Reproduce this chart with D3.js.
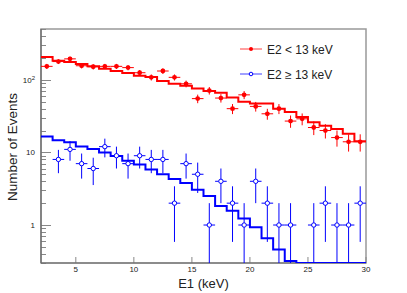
<!DOCTYPE html>
<html>
<head>
<meta charset="utf-8">
<script src="https://d3js.org/d3.v7.min.js"></script>
<style>
  body { margin: 0; background: #fff; }
  text { font-family: "Liberation Sans", Arial, sans-serif; }
</style>
</head>
<body>
<div id="chart"></div>
<script>
// bin low edges (keV), 1 keV wide
const binEdges = d3.range(2, 30);
const binCenters = binEdges.map(d => d + 0.5);

// histogram (expectation) per bin
const redHist = [206, 183, 176, 165, 153, 142, 132, 124, 114, 109, 96, 88, 83, 76,
                 70, 66, 57, 50, 47, 47, 40, 36, 30.7, 26, 23.3, 21, 18, 14.2];
const blueHist = [16.6, 14.7, 13.8, 12.1, 11.1, 10.0, 8.95, 7.7, 6.8, 5.8, 5.0, 4.3, 3.8, 3.06,
                  2.5, 1.83, 1.57, 1.23, 0.93, 0.66, 0.46, 0.32, 0, 0, 0, 0, 0, 0];

// measured counts per bin
const redCounts = [153, 178, 194, 156, 151, 153, 153, 147, 125, 108, 132, 108, 88, 55,
                   71, 56, 40, 62, 43, 34, 40, 27, 29, 22, 20, 16, 14, 14];
const blueCounts = [0, 8, 11, 7, 6, 12, 9, 7, 9, 8, 8, 2, 7, 5,
                    1, 4, 2, 1, 4, 2, 1, 1, 0, 1, 2, 1, 1, 2];

const xTicks = [5, 10, 15, 20, 25, 30];
const yMajor = [1, 10, 100];
const legendLabels = ["E2 < 13 keV", "E2 \u2265 13 keV"];

(function chart() {

    const WIDTH = 407;
    const HEIGHT = 293;
    const X0 = 41, X1 = 366, Y0 = 29, Y1 = 263;
    const YMIN = 0.3, YMAX = 500;

    const svg = d3.select("#chart").append("svg")
        .attr("width", WIDTH)
        .attr("height", HEIGHT);

    const x = d3.scaleLinear().domain([2, 30]).range([X0, X1]);
    const y = d3.scaleLog().domain([YMIN, YMAX]).range([Y1, Y0]);
    const yc = v => y(Math.max(YMIN, Math.min(YMAX, v)));

    svg.append("clipPath").attr("id", "clip")
        .append("rect").attr("x", X0).attr("y", Y0)
        .attr("width", X1 - X0).attr("height", Y1 - Y0);

    // frame
    svg.append("rect")
        .attr("x", X0).attr("y", Y0)
        .attr("width", X1 - X0).attr("height", Y1 - Y0)
        .attr("fill", "none").attr("stroke", "#999").attr("stroke-width", 1.5);

    // y ticks (major + minor), pointing inward
    const minor = [];
    [0.1, 1, 10, 100].forEach(dec => {
        for (let k = 2; k <= 9; k++) {
            const v = dec * k;
            if (v >= YMIN && v <= YMAX) minor.push(v);
        }
    });
    svg.append("g").selectAll("line").data(minor).join("line")
        .attr("x1", X0).attr("x2", X0 + 5)
        .attr("y1", d => Math.round(y(d)) + 0.5).attr("y2", d => Math.round(y(d)) + 0.5)
        .attr("stroke", "#888");
    svg.append("g").selectAll("line").data(yMajor).join("line")
        .attr("x1", X0).attr("x2", X0 + 10)
        .attr("y1", d => Math.round(y(d)) + 0.5).attr("y2", d => Math.round(y(d)) + 0.5)
        .attr("stroke", "#888");

    // x ticks
    svg.append("g").selectAll("line").data(xTicks).join("line")
        .attr("x1", d => x(d)).attr("x2", d => x(d))
        .attr("y1", Y1).attr("y2", Y1 - 6)
        .attr("stroke", "#888");

    // axis lines
    svg.append("line").attr("x1", X0).attr("x2", X0).attr("y1", Y0).attr("y2", Y1)
        .attr("stroke", "#666").attr("stroke-width", 1.2);
    svg.append("line").attr("x1", X0).attr("x2", X1).attr("y1", Y1).attr("y2", Y1)
        .attr("stroke", "#666").attr("stroke-width", 1.2);

    // tick labels
    svg.append("g").selectAll("text").data(xTicks).join("text")
        .attr("x", d => x(d)).attr("y", 272)
        .attr("text-anchor", "middle")
        .style("font-size", "8px").attr("fill", "#222")
        .text(d => d);

    const yl = svg.append("g").selectAll("text").data(yMajor).join("text")
        .attr("x", 35).attr("y", d => y(d) + 3)
        .attr("text-anchor", "end")
        .style("font-size", "8px").attr("fill", "#222");
    yl.each(function(d) {
        const t = d3.select(this);
        if (d === 100) {
            t.append("tspan").text("10");
            t.append("tspan").attr("dy", -3).style("font-size", "6px").text("2");
        } else {
            t.text(d);
        }
    });

    // axis titles
    svg.append("text")
        .attr("x", (X0 + X1) / 2).attr("y", 288)
        .attr("text-anchor", "middle")
        .style("font-size", "13px").attr("fill", "#222")
        .text("E1 (keV)");
    svg.append("text")
        .attr("transform", "translate(17,147) rotate(-90)")
        .attr("text-anchor", "middle")
        .style("font-size", "13.5px").attr("fill", "#222")
        .text("Number of Events");

    const plot = svg.append("g").attr("clip-path", "url(#clip)");

    // histograms as steps
    function drawHist(vals, color) {
        const pts = [];
        vals.forEach((v, i) => {
            pts.push([x(binEdges[i]), yc(v)]);
            pts.push([x(binEdges[i] + 1), yc(v)]);
        });
        plot.append("path")
            .attr("d", d3.line()(pts))
            .attr("fill", "none")
            .attr("stroke", color)
            .attr("stroke-width", 2);
    }
    drawHist(redHist, "#ff0000");
    drawHist(blueHist, "#0000ff");

    // data points with sqrt(N) errors
    function drawPoints(counts, color, open) {
        const data = counts.map((n, i) => ({ c: binCenters[i], n: n })).filter(d => d.n > 0);
        const g = plot.append("g");
        g.selectAll("line.h").data(data).join("line")
            .attr("x1", d => x(d.c - 0.5)).attr("x2", d => x(d.c + 0.5))
            .attr("y1", d => yc(d.n)).attr("y2", d => yc(d.n))
            .attr("stroke", color).attr("stroke-width", 1);
        g.selectAll("line.v").data(data).join("line")
            .attr("x1", d => x(d.c)).attr("x2", d => x(d.c))
            .attr("y1", d => yc(d.n + Math.sqrt(d.n)))
            .attr("y2", d => yc(d.n - Math.sqrt(d.n)))
            .attr("stroke", color).attr("stroke-width", 1);
        g.selectAll("circle").data(data).join("circle")
            .attr("cx", d => x(d.c)).attr("cy", d => yc(d.n))
            .attr("r", open ? 2.2 : 2.4)
            .attr("fill", open ? "#fff" : color)
            .attr("stroke", color).attr("stroke-width", open ? 1 : 0);
    }
    drawPoints(redCounts, "#ff0000", false);
    drawPoints(blueCounts, "#0000ff", true);

    // legend
    const legend = svg.append("g");
    const colors = ["#ff0000", "#0000ff"];
    legendLabels.forEach((lab, i) => {
        const ly = 49 + i * 25;
        legend.append("line")
            .attr("x1", 240).attr("x2", 262).attr("y1", ly).attr("y2", ly)
            .attr("stroke", colors[i]).attr("stroke-opacity", 0.75);
        legend.append("circle")
            .attr("cx", 251).attr("cy", ly).attr("r", i === 0 ? 2 : 1.8)
            .attr("fill", i === 0 ? colors[i] : "#fff")
            .attr("stroke", colors[i]).attr("stroke-width", i === 0 ? 0 : 1);
        legend.append("text")
            .attr("x", 267).attr("y", ly + 4.5)
            .style("font-size", "12px").attr("fill", "#222")
            .text(lab);
    });

})();
</script>
</body>
</html>
